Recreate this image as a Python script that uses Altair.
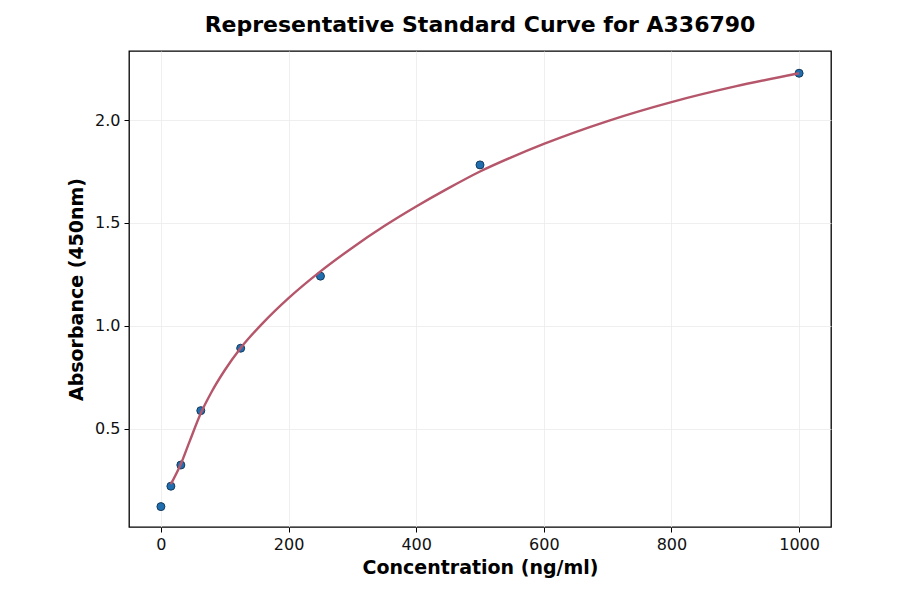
import altair as alt
import pandas as pd

# Measured standards
conc = [0, 15.625, 31.25, 62.5, 125, 250, 500, 1000]
absorb = [0.123, 0.222, 0.325, 0.589, 0.892, 1.242, 1.782, 2.227]

# Fitted curve
curve_x = [15.6, 31.25, 45, 62.5, 80, 100, 125, 160, 200, 250, 300, 350, 400, 450, 500, 550, 600, 700, 800, 900, 1000]
curve_y = [0.232, 0.33, 0.44, 0.576, 0.683, 0.785, 0.893, 1.015, 1.135, 1.265, 1.38, 1.485, 1.58, 1.668, 1.75, 1.82, 1.884, 1.995, 2.087, 2.163, 2.227]

pts = pd.DataFrame({"x": conc, "y": absorb})
crv = pd.DataFrame({"x": curve_x, "y": curve_y})

xscale = alt.Scale(domain=[-50, 1050], nice=False, zero=False)
yscale = alt.Scale(domain=[0.024, 2.335], nice=False, zero=False)

common = dict(grid=True, gridColor="#ebebeb", gridWidth=0.8,
              domain=False, tickColor="black", tickSize=5, tickWidth=1,
              labelFont="DejaVu Sans", labelFontSize=16, labelColor="#111",
              labelPadding=4,
              titleFont="DejaVu Sans", titleFontSize=19, titleFontWeight="bold",
              titleColor="black")

xaxis = alt.Axis(values=[0, 200, 400, 600, 800, 1000], format="d", title="Concentration (ng/ml)",
                 titlePadding=6, **common)
yaxis = alt.Axis(values=[0.5, 1.0, 1.5, 2.0], format=".1f", title="Absorbance (450nm)",
                 titlePadding=8, **common)

points = alt.Chart(pts).mark_circle(size=64, color="#1f6fb0", stroke="#163a5c",
                                    strokeWidth=1, opacity=1).encode(
    x=alt.X("x:Q", scale=xscale, axis=xaxis),
    y=alt.Y("y:Q", scale=yscale, axis=yaxis),
)

line = alt.Chart(crv).mark_line(color="#b5566b", strokeWidth=2.4, interpolate="monotone").encode(
    x=alt.X("x:Q", scale=xscale),
    y=alt.Y("y:Q", scale=yscale),
)

chart = alt.layer(points, line).properties(
    width=702, height=476,
    background="white",
    title=alt.TitleParams("Representative Standard Curve for A336790", font="DejaVu Sans",
                          fontSize=22, fontWeight="bold", color="black", offset=14),
    autosize=alt.AutoSizeParams(type="none"),
    padding={"left": 121, "top": 43, "right": 61, "bottom": 59},
).configure_view(stroke="black", strokeWidth=1.3)

chart.save("out.html", embed_options={"renderer": "svg", "actions": False})
